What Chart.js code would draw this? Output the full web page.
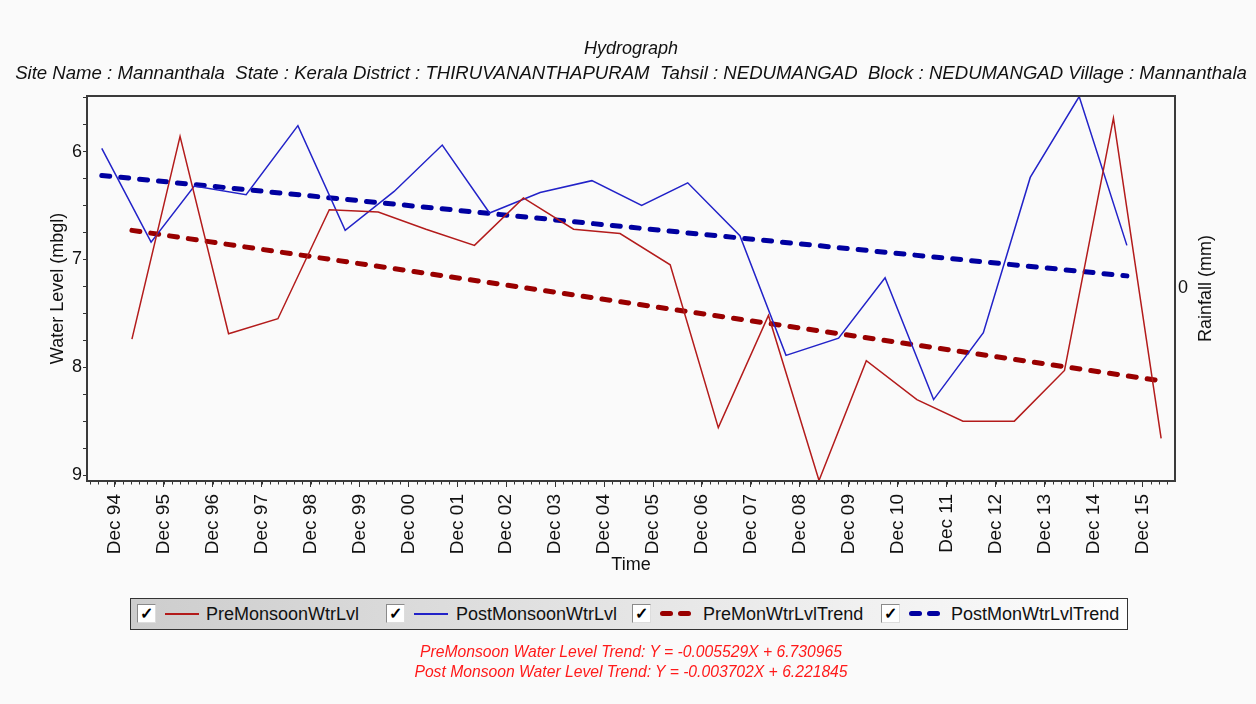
<!DOCTYPE html>
<html>
<head>
<meta charset="utf-8">
<script src="https://cdn.jsdelivr.net/npm/chart.js@4.4.1/dist/chart.umd.min.js"></script>
<style>
  body { margin: 0; background: #fafafa; font-family: "Liberation Sans", Arial, sans-serif; }
  #wrap { position: relative; width: 1256px; height: 704px; overflow: hidden; }
  #chart { position: absolute; left: 0; top: 0; }
  .ttl { position: absolute; left: 0; width: 1262px; text-align: center; font-style: italic;
         color: #111; font-size: 18px; line-height: 20px; white-space: pre; }
  .eq { position: absolute; left: 0; width: 1262px; text-align: center; font-style: italic;
        color: #ff1a1a; font-size: 15.7px; line-height: 18px; white-space: pre; }
  #legend { position: absolute; left: 130px; top: 598px; width: 996px; height: 30px;
            border: 1.5px solid #333; background: linear-gradient(to right, #cdcdcd, #fdfdfd); }
  .cb { position: absolute; top: 5px; width: 17px; height: 17px; background: #fff;
        border: 1.5px solid #8a8a8a; border-right-color: #ddd; border-bottom-color: #ddd;
        font-size: 16px; font-weight: bold; line-height: 17px; text-align: center; color: #000; }
  .lt { position: absolute; top: 5px; font-size: 18px; line-height: 20px; color: #111; white-space: nowrap; }
  .ln { position: absolute; top: 14px; height: 2px; }
  .ds { position: absolute; top: 12px; width: 13px; height: 5px; border-radius: 2.5px; }
</style>
</head>
<body>
<div id="wrap">
  <canvas id="chart" width="1256" height="704"></canvas>
  <div class="ttl" style="top:38px">Hydrograph</div>
  <div class="ttl" style="top:63px;font-size:18.6px">Site Name : Mannanthala  State : Kerala District : THIRUVANANTHAPURAM  Tahsil : NEDUMANGAD  Block : NEDUMANGAD Village : Mannanthala</div>
  <div id="legend">
    <div class="cb" style="left:6px">✓</div>
    <div class="ln" style="left:34px;width:34px;background:#b31b1b"></div>
    <div class="lt" style="left:75px">PreMonsoonWtrLvl</div>
    <div class="cb" style="left:255px">✓</div>
    <div class="ln" style="left:283px;width:34px;background:#2222c8"></div>
    <div class="lt" style="left:325px">PostMonsoonWtrLvl</div>
    <div class="cb" style="left:501px">✓</div>
    <div class="ds" style="left:529px;background:#990000"></div>
    <div class="ds" style="left:547px;background:#990000"></div>
    <div class="lt" style="left:572px">PreMonWtrLvlTrend</div>
    <div class="cb" style="left:750px">✓</div>
    <div class="ds" style="left:778px;background:#0000a0"></div>
    <div class="ds" style="left:796px;background:#0000a0"></div>
    <div class="lt" style="left:820px">PostMonWtrLvlTrend</div>
  </div>
  <div class="eq" style="top:643px">PreMonsoon Water Level Trend: Y = -0.005529X + 6.730965</div>
  <div class="eq" style="top:663px">Post Monsoon Water Level Trend: Y = -0.003702X + 6.221845</div>
</div>
<script>
// months counted from Jan 1994
const preMonths = [15.2, 27.0, 38.9, 51.0, 63.6, 75.6, 87.3, 99.2, 111.2, 123.5, 134.9,
                   147.2, 159.0, 171.3, 183.7, 195.3, 207.7, 219.0, 231.6, 243.9, 255.9, 267.6];
const preLevels = [7.74, 5.86, 7.69, 7.55, 6.54, 6.56, 6.72, 6.87, 6.43, 6.72, 6.76,
                   7.05, 8.56, 7.52, 9.05, 7.94, 8.30, 8.50, 8.50, 8.03, 5.69, 8.66];
const postMonths = [7.8, 19.9, 30.5, 43.2, 55.9, 67.5, 79.5, 91.3, 102.9, 115.3, 128.0,
                    140.2, 151.5, 164.3, 175.6, 188.5, 199.9, 211.8, 224.0, 235.5, 247.5, 259.2];
const postLevels = [5.97, 6.84, 6.32, 6.40, 5.76, 6.73, 6.37, 5.94, 6.57, 6.38, 6.27,
                    6.50, 6.29, 6.78, 7.89, 7.73, 7.17, 8.30, 7.68, 6.24, 5.49, 6.87];
const preTrendMonths = [15.2, 267.6];
const preTrendLevels = [6.731, 8.126];
const postTrendMonths = [7.8, 259.2];
const postTrendLevels = [6.222, 7.153];
const tickMonths = [11, 23, 35, 47, 59, 71, 83, 95, 107, 119, 131, 143, 155, 167, 179, 191,
                    203, 215, 227, 239, 251, 263];
const tickLabels = ['Dec 94', 'Dec 95', 'Dec 96', 'Dec 97', 'Dec 98', 'Dec 99', 'Dec 00', 'Dec 01',
                    'Dec 02', 'Dec 03', 'Dec 04', 'Dec 05', 'Dec 06', 'Dec 07', 'Dec 08', 'Dec 09',
                    'Dec 10', 'Dec 11', 'Dec 12', 'Dec 13', 'Dec 14', 'Dec 15'];

const pts = (xs, ys) => xs.map((x, i) => ({ x: x, y: ys[i] }));
const FONT = '"Liberation Sans", Arial, sans-serif';

// frame, minor time ticks, right axis title
const framePlugin = {
  id: 'frame',
  afterDraw(chart) {
    const { ctx, chartArea: a, scales } = chart;
    ctx.save();
    ctx.strokeStyle = '#333';
    ctx.lineWidth = 1;
    ctx.beginPath();
    for (let m = 5; m < 272; m += 2) {
      const px = Math.round(scales.x.getPixelForValue(m)) + 0.5;
      if (px < a.left || px > a.right) continue;
      ctx.moveTo(px, a.bottom);
      ctx.lineTo(px, a.bottom + 3.5);
    }
    ctx.stroke();
    ctx.strokeStyle = '#3a3a3a';
    ctx.lineWidth = 2;
    ctx.strokeRect(a.left, a.top, a.right - a.left, a.bottom - a.top);
    ctx.fillStyle = '#111';
    ctx.font = '18px ' + FONT;
    ctx.textAlign = 'center';
    ctx.textBaseline = 'middle';
    ctx.translate(1206, (a.top + a.bottom) / 2);
    ctx.rotate(-Math.PI / 2);
    ctx.fillText('Rainfall (mm)', 0, 0);
    ctx.restore();
  }
};

new Chart(document.getElementById('chart'), {
  type: 'line',
  data: {
    datasets: [
      { data: pts(preMonths, preLevels), borderColor: '#b31b1b', borderWidth: 1.5, pointRadius: 0, tension: 0 },
      { data: pts(postMonths, postLevels), borderColor: '#2222c8', borderWidth: 1.5, pointRadius: 0, tension: 0 },
      { data: pts(preTrendMonths, preTrendLevels), borderColor: '#990000', borderWidth: 5,
        borderDash: [8, 11], borderCapStyle: 'round', pointRadius: 0 },
      { data: pts(postTrendMonths, postTrendLevels), borderColor: '#0000a0', borderWidth: 5,
        borderDash: [8, 11], borderCapStyle: 'round', pointRadius: 0 },
    ],
  },
  options: {
    responsive: false,
    animation: false,
    layout: { padding: { left: 43, right: 37, top: 96, bottom: 124 } },
    plugins: { legend: { display: false }, tooltip: { enabled: false } },
    scales: {
      x: {
        type: 'linear',
        min: 4.18,
        max: 271.0,
        afterBuildTicks: s => { s.ticks = tickMonths.map(v => ({ value: v })); },
        afterFit: s => { s.height = 99; },
        border: { display: false },
        grid: { drawOnChartArea: false, tickLength: 6, color: '#333' },
        ticks: {
          minRotation: 90, maxRotation: 90, autoSkip: false, padding: 7,
          color: '#111', font: { family: FONT, size: 19 },
          callback: (v, i) => tickLabels[i],
        },
        title: { display: true, text: 'Time', color: '#111', font: { family: FONT, size: 18 },
                 padding: { top: 4, bottom: 4 } },
      },
      y: {
        position: 'left',
        reverse: true,
        min: 5.485,
        max: 9.055,
        afterFit: s => { s.width = 44; },
        border: { display: false },
        grid: { drawOnChartArea: false, tickLength: 4, color: '#333' },
        ticks: {
          stepSize: 0.25, includeBounds: false, autoSkip: false, padding: 1,
          color: '#111', font: { family: FONT, size: 18 },
          callback: v => (Number.isInteger(v) ? String(v) : ''),
        },
        title: { display: true, text: 'Water Level (mbgl)', color: '#111', font: { family: FONT, size: 18 },
                 padding: { top: 4, bottom: 4 } },
      },
      y2: {
        position: 'right',
        min: -1,
        max: 1,
        afterBuildTicks: s => { s.ticks = [{ value: 0 }]; },
        afterFit: s => { s.width = 44; },
        border: { display: false },
        grid: { display: false, drawTicks: false },
        ticks: { padding: 3, color: '#111', font: { family: FONT, size: 18 } },
      },
    },
  },
  plugins: [framePlugin],
});
</script>
</body>
</html>
